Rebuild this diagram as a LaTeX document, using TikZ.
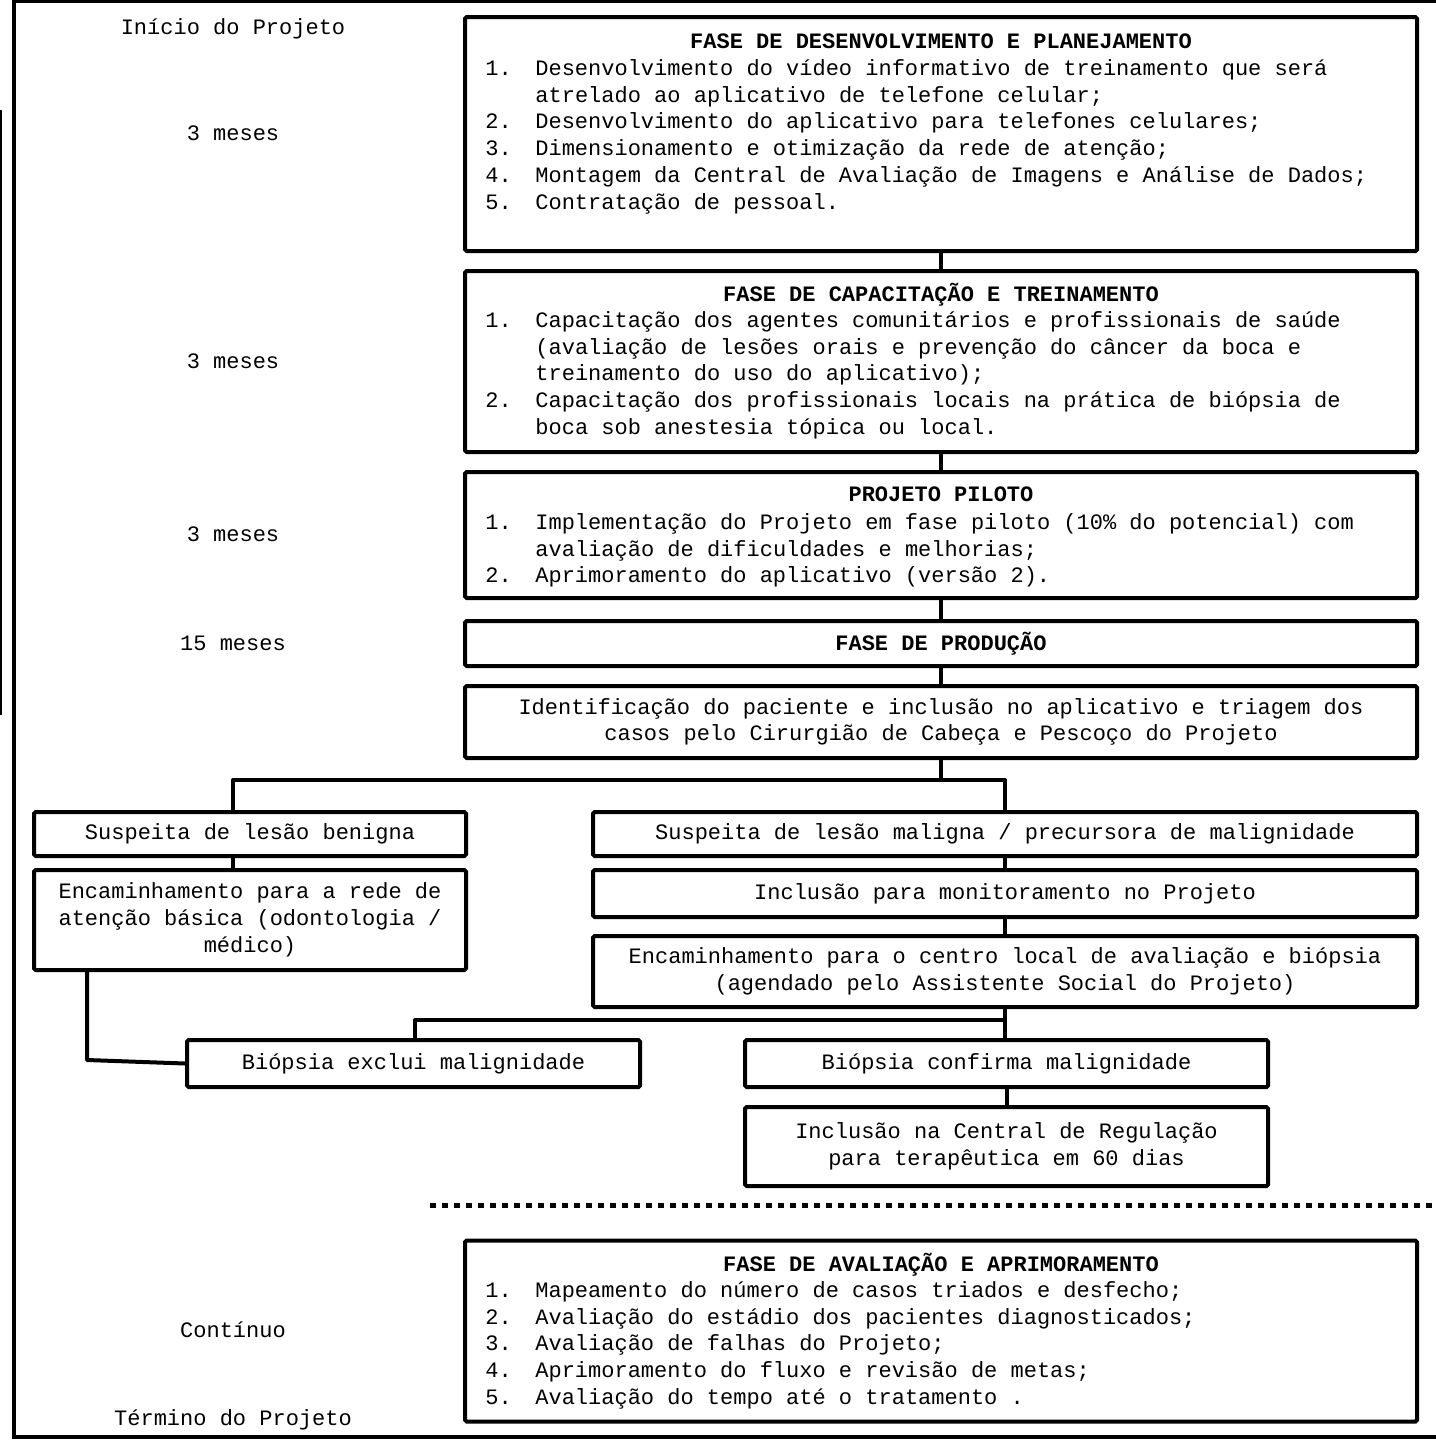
\documentclass[tikz,border=0pt]{standalone}
\usepackage{fontspec}
\setmainfont{Liberation Mono}
\usepackage{array}
\newcommand\fs{\fontsize{11pt}{13.4pt}\selectfont}
\tikzset{
  x=0.5pt, y=-0.5pt,
  box/.style={draw, line width=2pt, rounded corners=0.8pt, inner sep=0pt, align=center, font=\fs},
  conn/.style={line width=2pt, line join=round},
  lbl/.style={inner sep=0pt, font=\fs, anchor=base},
  hd/.style={inner sep=0pt, font=\fs\bfseries, anchor=base},
  lst/.style={inner sep=0pt, anchor=north west, font=\fs},
}
\begin{document}
\begin{tikzpicture}
\useasboundingbox (0,0) rectangle (1435,1440);
% outer frame
\draw[line width=2pt] (1440,1) -- (14,1) -- (14,1437) -- (1440,1437);
\draw[line width=1pt] (1,110) -- (1,715);

% left labels
\node[lbl] (l0) at (233,34) {Início do Projeto};
\node[lbl] (l1) at (233,140) {3 meses};
\node[lbl] (l2) at (233,368) {3 meses};
\node[lbl] (l3) at (233,541) {3 meses};
\node[lbl] (l4) at (233,650) {15 meses};
\node[lbl] (l5) at (233,1337) {Contínuo};
\node[lbl] (l6) at (233,1425) {Término do Projeto};

% phase 1
\node[box, minimum width=476pt, minimum height=117pt] (b1) at (941,134) {};
\node[hd] (h1) at (941,48) {FASE DE DESENVOLVIMENTO E PLANEJAMENTO};
\node[lst] (t1) at (485,56.2) {\begin{tabular}{@{}p{25pt}@{}l@{}}
1. & Desenvolvimento do vídeo informativo de treinamento que será\\
   & atrelado ao aplicativo de telefone celular;\\
2. & Desenvolvimento do aplicativo para telefones celulares;\\
3. & Dimensionamento e otimização da rede de atenção;\\
4. & Montagem da Central de Avaliação de Imagens e Análise de Dados;\\
5. & Contratação de pessoal.
\end{tabular}};

% phase 2
\node[box, minimum width=476pt, minimum height=90.5pt] (b2) at (941,361.5) {};
\node[hd] (h2) at (941,301) {FASE DE CAPACITAÇÃO E TREINAMENTO};
\node[lst] (t2) at (485,308.2) {\begin{tabular}{@{}p{25pt}@{}l@{}}
1. & Capacitação dos agentes comunitários e profissionais de saúde\\
   & (avaliação de lesões orais e prevenção do câncer da boca e\\
   & treinamento do uso do aplicativo);\\
2. & Capacitação dos profissionais locais na prática de biópsia de\\
   & boca sob anestesia tópica ou local.
\end{tabular}};

% phase 3
\node[box, minimum width=476pt, minimum height=63pt] (b3) at (941,535) {};
\node[hd] (h3) at (941,501) {PROJETO PILOTO};
\node[lst] (t3) at (485,510.2) {\begin{tabular}{@{}p{25pt}@{}l@{}}
1. & Implementação do Projeto em fase piloto (10\% do potencial) com\\
   & avaliação de dificuldades e melhorias;\\
2. & Aprimoramento do aplicativo (versão 2).
\end{tabular}};

% phase 4
\node[box, minimum width=476pt, minimum height=22.5pt, font=\fs\bfseries] (b4) at (941,643.5) {FASE DE PRODUÇÃO};
\node[box, minimum width=476pt, minimum height=36pt] (b5) at (941,722) {Identificação do paciente e inclusão no aplicativo e triagem dos\\casos pelo Cirurgião de Cabeça e Pescoço do Projeto};

% branches
\node[box, minimum width=216pt, minimum height=22pt] (ben) at (250,834) {Suspeita de lesão benigna};
\node[box, minimum width=412pt, minimum height=22pt] (mal) at (1005,834) {Suspeita de lesão maligna / precursora de malignidade};
\node[box, minimum width=216pt, minimum height=50pt] (rede) at (250,920) {Encaminhamento para a rede de\\atenção básica (odontologia /\\médico)};
\node[box, minimum width=412pt, minimum height=23.5pt] (mon) at (1005,893.5) {Inclusão para monitoramento no Projeto};
\node[box, minimum width=412pt, minimum height=35.5pt] (cen) at (1005,971.5) {Encaminhamento para o centro local de avaliação e biópsia\\(agendado pelo Assistente Social do Projeto)};
\node[box, minimum width=226.5pt, minimum height=23.5pt] (exc) at (413.5,1063.5) {Biópsia exclui malignidade};
\node[box, minimum width=261.5pt, minimum height=23.5pt] (conf) at (1006.5,1063.5) {Biópsia confirma malignidade};
\node[box, minimum width=261.5pt, minimum height=39.5pt] (cent) at (1006.5,1146.5) {Inclusão na Central de Regulação\\para terapêutica em 60 dias};

% evaluation phase
\node[box, minimum width=476pt, minimum height=90.5pt] (b6) at (941,1331) {};
\node[hd] (h6) at (941,1271) {FASE DE AVALIAÇÃO E APRIMORAMENTO};
\node[lst] (t6) at (485,1278.2) {\begin{tabular}{@{}p{25pt}@{}l@{}}
1. & Mapeamento do número de casos triados e desfecho;\\
2. & Avaliação do estádio dos pacientes diagnosticados;\\
3. & Avaliação de falhas do Projeto;\\
4. & Aprimoramento do fluxo e revisão de metas;\\
5. & Avaliação do tempo até o tratamento .
\end{tabular}};

% dotted separator
\coordinate (d0) at (430,1205);
\coordinate (d1) at (1440,1205);
\draw[line width=2.5pt, dash pattern=on 3pt off 3pt] (d0) -- (d1);

% connectors
\draw[conn] (b1.south) -- (b2.north);
\draw[conn] (b2.south) -- (b3.north);
\draw[conn] (b3.south) -- (b4.north);
\draw[conn] (b4.south) -- (b5.north);
\coordinate (split) at (233,780);
\draw[conn] (b5.south) -- (b5.south |- split);
\draw[conn] (split |- ben.north) -- (split) -- (mal.north |- split) -- (mal.north);
\draw[conn] (split |- ben.south) -- (split |- rede.north);
\draw[conn] (mal.south) -- (mon.north);
\draw[conn] (mon.south) -- (cen.north);
\draw[conn] (cen.south) -- (cen.south |- conf.north);
\coordinate (br) at (415,1020);
\draw[conn] (cen.south |- br) -- (br) -- (br |- exc.north);
\coordinate (rl) at (87,1060);
\draw[conn] (rl |- rede.south) -- (rl) -- (exc.west);
\draw[conn] (conf.south) -- (conf.south |- cent.north);
\end{tikzpicture}
\end{document}
